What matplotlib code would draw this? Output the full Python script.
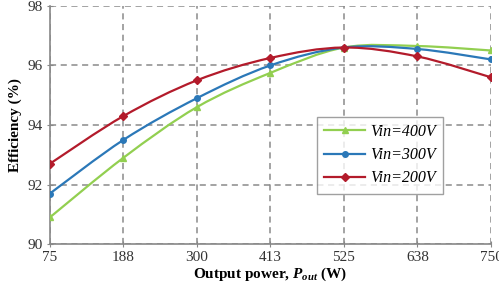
import numpy as np
import matplotlib.pyplot as plt
from matplotlib.path import Path
from matplotlib.patches import PathPatch

# Data
power_labels = ['75', '188', '300', '413', '525', '638', '750']
power = [75, 188, 300, 413, 525, 638, 750]
eff_400 = [90.9, 92.9, 94.6, 95.75, 96.6, 96.65, 96.5]
eff_300 = [91.7, 93.5, 94.9, 96.0, 96.6, 96.55, 96.2]
eff_200 = [92.7, 94.3, 95.5, 96.25, 96.6, 96.3, 95.6]

series = [
    ('Vin=400V', eff_400, '#92CF50', '^'),
    ('Vin=300V', eff_300, '#2B78B8', 'o'),
    ('Vin=200V', eff_200, '#B31B2B', 'D'),
]

plt.rcParams['font.family'] = ['Liberation Serif', 'DejaVu Serif']
plt.rcParams['mathtext.fontset'] = 'custom'
plt.rcParams['mathtext.it'] = 'Liberation Serif:italic:bold'
plt.rcParams['mathtext.rm'] = 'Liberation Serif:bold'


# Excel-style smoothed line: cubic Bezier through the points
def smooth_path(x, y, t=1/6):
    x = np.asarray(x, float)
    y = np.asarray(y, float)
    verts = [(x[0], y[0])]
    codes = [Path.MOVETO]
    n = len(x)
    for i in range(n - 1):
        x0, y0 = (x[i - 1], y[i - 1]) if i > 0 else (x[i], y[i])
        x3, y3 = (x[i + 2], y[i + 2]) if i + 2 < n else (x[i + 1], y[i + 1])
        c1 = (x[i] + (x[i + 1] - x0) * t, y[i] + (y[i + 1] - y0) * t)
        c2 = (x[i + 1] - (x3 - x[i]) * t, y[i + 1] - (y3 - y[i]) * t)
        verts += [c1, c2, (x[i + 1], y[i + 1])]
        codes += [Path.CURVE4] * 3
    return Path(verts, codes)


fig = plt.figure(figsize=(4.99, 2.90), dpi=100)
ax = fig.add_axes([0.100, 0.158, 0.884, 0.822])

xpos = np.arange(len(power))
for label, vals, color, marker in series:
    ax.add_patch(PathPatch(smooth_path(xpos, vals), facecolor='none',
                           edgecolor=color, linewidth=1.6, zorder=3))
    ax.plot(xpos, vals, linestyle='none', marker=marker, markersize=4,
            color=color, zorder=4)
    # legend proxy
    ax.plot([], [], color=color, marker=marker, markersize=4, linewidth=1.6, label=label)

ax.set_xlim(0, len(power) - 1)
ax.set_ylim(90, 98)
ax.set_xticks(xpos)
ax.set_xticklabels(power_labels)
ax.set_yticks([90, 92, 94, 96, 98])
ax.tick_params(labelsize=11, length=4, color='#888888', direction='inout', pad=3,
               labelcolor='#333333')
ax.grid(True, linestyle=(0, (4, 3)), color='#8a8a8a', linewidth=1.1)
ax.set_axisbelow(True)
for side in ['top', 'right']:
    ax.spines[side].set_visible(False)
for side in ['left', 'bottom']:
    ax.spines[side].set_color('#888888')
    ax.spines[side].set_linewidth(1.2)

ax.set_xlabel(r'Output power, $P_{out}$ (W)', fontsize=11, fontweight='bold', labelpad=1)
ax.set_ylabel('Efficiency (%)', fontsize=11, fontweight='bold', labelpad=4)

leg = ax.legend(loc='upper left', bbox_to_anchor=(0.605, 0.534), borderaxespad=0,
                prop={'style': 'italic', 'size': 11.5}, frameon=True, fancybox=False,
                edgecolor='#888888', handlelength=2.6, handletextpad=0.3,
                borderpad=0.45, labelspacing=0.45)
leg.get_frame().set_linewidth(1.0)

fig.savefig('out.png', dpi=100)
